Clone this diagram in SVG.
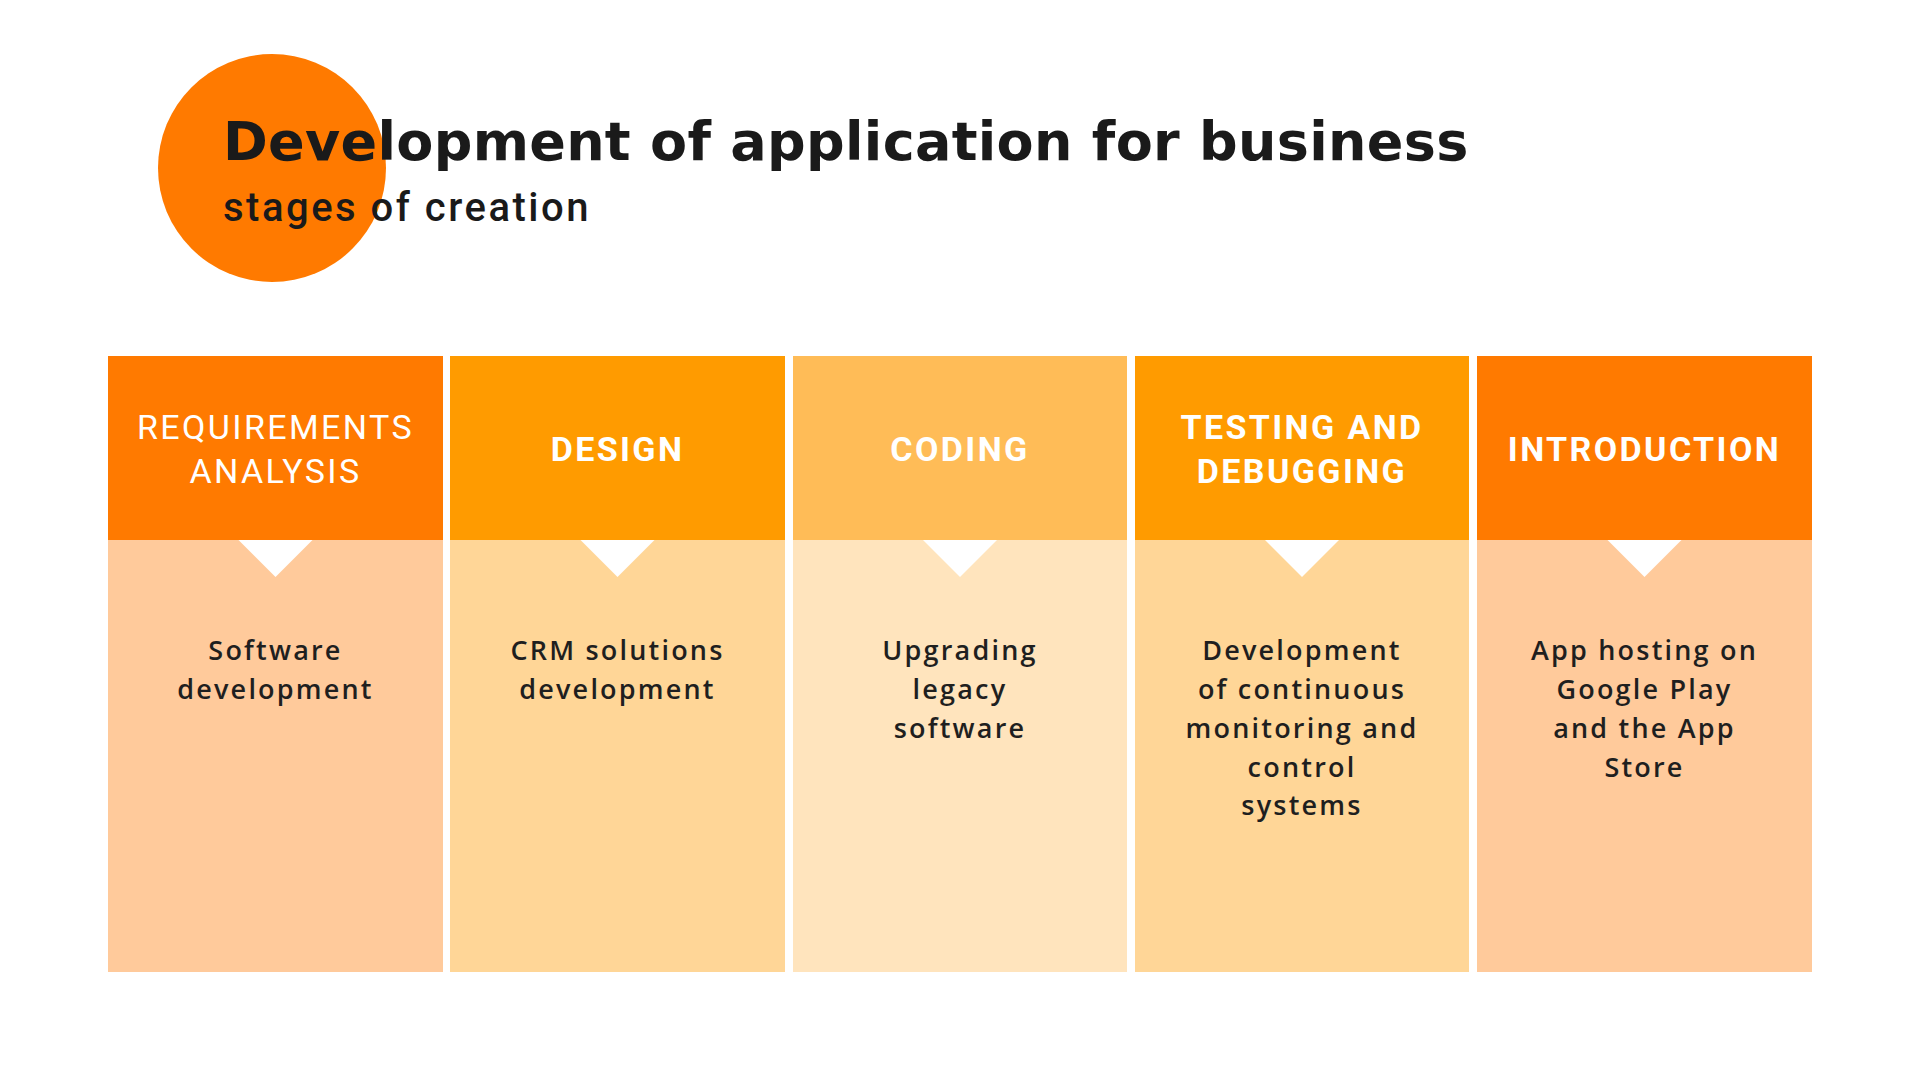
<svg xmlns="http://www.w3.org/2000/svg" width="1920" height="1080" viewBox="0 0 1920 1080">
<style>
.title{font-family:"DejaVu Sans",sans-serif;font-weight:bold;font-size:54px;fill:#1a1a1a;letter-spacing:0.3px}
.sub{font-family:Roboto,sans-serif;font-weight:500;font-size:40px;fill:#1a1a1a;letter-spacing:2.5px}
.hd{font-family:Roboto,sans-serif;font-size:34px;fill:#fff;text-anchor:middle;letter-spacing:2.4px}
.hb{font-weight:bold}
.hl{font-weight:normal}
.bd{font-family:"Open Sans",sans-serif;font-weight:600;font-size:27px;fill:#1f1f1f;text-anchor:middle;letter-spacing:2.2px}
.tri{fill:#fff}
</style>
<rect width="1920" height="1080" fill="#fff"/>
<g id="header">
<circle cx="272" cy="168" r="114" fill="#FF7A00"/>
<text class="title" x="223" y="160">Development of application for business</text>
<text class="sub" x="223" y="221">stages of creation</text>
</g>
<g id="stage1">
<rect x="108" y="356" width="335" height="184" fill="#FF7A00"/>
<rect x="108" y="540" width="335" height="432" fill="#FFCA9B"/>
<polygon class="tri" points="238.5,540 312.5,540 275.5,577"/>
<text class="hd hl" x="275.5" y="439">REQUIREMENTS</text>
<text class="hd hl" x="275.5" y="483">ANALYSIS</text>
<text class="bd" x="275.5" y="660">Software</text>
<text class="bd" x="275.5" y="699">development</text>
</g>
<g id="stage2">
<rect x="450" y="356" width="335" height="184" fill="#FF9B00"/>
<rect x="450" y="540" width="335" height="432" fill="#FFD697"/>
<polygon class="tri" points="580.5,540 654.5,540 617.5,577"/>
<text class="hd hb" x="617.5" y="461">DESIGN</text>
<text class="bd" x="617.5" y="660">CRM solutions</text>
<text class="bd" x="617.5" y="699">development</text>
</g>
<g id="stage3">
<rect x="793" y="356" width="334" height="184" fill="#FFBC57"/>
<rect x="793" y="540" width="334" height="432" fill="#FFE4BD"/>
<polygon class="tri" points="923,540 997,540 960,577"/>
<text class="hd hb" x="960" y="461">CODING</text>
<text class="bd" x="960" y="660">Upgrading</text>
<text class="bd" x="960" y="699">legacy</text>
<text class="bd" x="960" y="738">software</text>
</g>
<g id="stage4">
<rect x="1135" y="356" width="334" height="184" fill="#FF9B00"/>
<rect x="1135" y="540" width="334" height="432" fill="#FFD697"/>
<polygon class="tri" points="1265,540 1339,540 1302,577"/>
<text class="hd hb" x="1302" y="439">TESTING AND</text>
<text class="hd hb" x="1302" y="483">DEBUGGING</text>
<text class="bd" x="1302" y="660">Development</text>
<text class="bd" x="1302" y="699">of continuous</text>
<text class="bd" x="1302" y="738">monitoring and</text>
<text class="bd" x="1302" y="777">control</text>
<text class="bd" x="1302" y="815">systems</text>
</g>
<g id="stage5">
<rect x="1477" y="356" width="335" height="184" fill="#FF7A00"/>
<rect x="1477" y="540" width="335" height="432" fill="#FFCA9B"/>
<polygon class="tri" points="1607.5,540 1681.5,540 1644.5,577"/>
<text class="hd hb" x="1644.5" y="461">INTRODUCTION</text>
<text class="bd" x="1644.5" y="660">App hosting on</text>
<text class="bd" x="1644.5" y="699">Google Play</text>
<text class="bd" x="1644.5" y="738">and the App</text>
<text class="bd" x="1644.5" y="777">Store</text>
</g>
<g id="connectors"/>
</svg>
